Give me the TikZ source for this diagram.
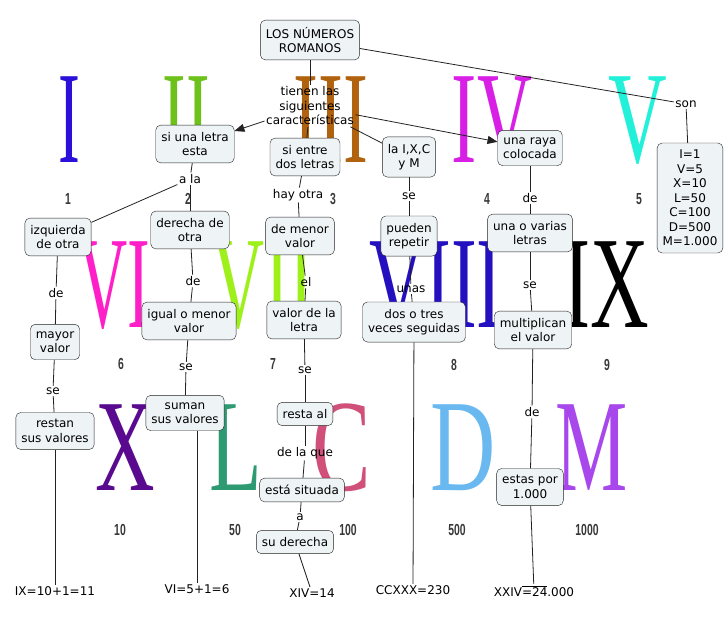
\documentclass[tikz,border=0pt]{standalone}
\usepackage{fontspec}
\setmainfont{DejaVu Sans}
\newfontfamily\romfont{Liberation Serif}
\newfontfamily\numfont{Liberation Sans}
\usetikzlibrary{arrows.meta}
\newcommand{\mapfont}{\fontsize{12}{14.5}\selectfont}
\newcommand{\rom}[2]{\scalebox{#1}[1]{#2}}
\definecolor{Fill}{HTML}{EEF3F6}
\definecolor{Ink}{HTML}{222222}
\definecolor{NumGray}{HTML}{383838}
\definecolor{RomI}{HTML}{2A10D8}
\definecolor{RomII}{HTML}{6CC21A}
\definecolor{RomIII}{HTML}{B0620E}
\definecolor{RomIV}{HTML}{D81FE6}
\definecolor{RomV}{HTML}{22F0D8}
\definecolor{RomVI}{HTML}{FF1FC8}
\definecolor{RomVII}{HTML}{9EF01A}
\definecolor{RomVIII}{HTML}{2510C0}
\definecolor{RomX}{HTML}{5A0A8E}
\definecolor{RomL}{HTML}{2E9A72}
\definecolor{RomC}{HTML}{D0507A}
\definecolor{RomD}{HTML}{6AB8F0}
\definecolor{RomM}{HTML}{A848EC}
\begin{document}
\begin{tikzpicture}[x=1pt,y=-1pt,
box/.style={draw=Ink,fill=Fill,rounded corners=5pt,align=center,inner xsep=5.5pt,inner ysep=7pt,font=\mapfont},
link/.style={align=center,inner sep=1.5pt,font=\mapfont},
leaf/.style={inner sep=1.5pt,font=\mapfont},
roman/.style={anchor=base,inner sep=0pt,font=\romfont\fontsize{131}{131}\selectfont},
num/.style={inner sep=0pt,font=\numfont\bfseries\fontsize{16}{16}\selectfont,text=NumGray},
con/.style={draw=Ink,line width=0.8pt},
arr/.style={con,-{Triangle[length=10pt,width=8pt]}}]
\useasboundingbox (0,0) rectangle (728,622);
\node[roman,text=RomI] (rI) at (69,162) {\rom{.5}{I}};
\node[roman,text=RomII] (rII) at (186,162) {\rom{.54}{II}};
\node[roman,text=RomIII] (rIII) at (331,162) {\rom{.57}{III}};
\node[roman,text=RomIV] (rIV) at (492,162) {\rom{.58}{IV}};
\node[roman,text=RomV] (rV) at (638,162) {\rom{.62}{V}};
\node[roman,text=RomVI] (rVI) at (114,327) {\rom{.52}{VI}};
\node[roman,text=RomVII] (rVII) at (263,327) {\rom{.55}{VII}};
\node[roman,text=RomVIII] (rVIII) at (436,327) {\rom{.59}{VIII}};
\node[roman,text=black] (rIX) at (606,327) {\rom{.62}{IX}};
\node[roman,text=RomX] (rX) at (125,490) {\rom{.63}{X}};
\node[roman,text=RomL] (rL) at (236,490) {\rom{.66}{L}};
\node[roman,text=RomC] (rC) at (342,490) {\rom{.67}{C}};
\node[roman,text=RomD] (rD) at (463,490) {\rom{.69}{D}};
\node[roman,text=RomM] (rM) at (592,490) {\rom{.62}{M}};
\node[num] (n1) at (68,199) {\rom{.65}{1}};
\node[num] (n2) at (188,199) {\rom{.65}{2}};
\node[num] (n3) at (333,199) {\rom{.65}{3}};
\node[num] (n4) at (487,199) {\rom{.65}{4}};
\node[num] (n5) at (639,199) {\rom{.65}{5}};
\node[num] (n6) at (121,364) {\rom{.65}{6}};
\node[num] (n7) at (273,364) {\rom{.65}{7}};
\node[num] (n8) at (454,365) {\rom{.65}{8}};
\node[num] (n9) at (607,365) {\rom{.65}{9}};
\node[num] (n10) at (120,530) {\rom{.65}{10}};
\node[num] (n50) at (235,530) {\rom{.65}{50}};
\node[num] (n100) at (348,530) {\rom{.65}{100}};
\node[num] (n500) at (457,530) {\rom{.65}{500}};
\node[num] (n1000) at (587,530) {\rom{.65}{1000}};
\node[box] (los) at (310,40) {LOS NÚMEROS\\ROMANOS};
\node[link] (tienen) at (310,106) {tienen las\\siguientes\\características};
\node[link] (son) at (686,104) {son};
\node[box] (vals) at (690,198) {I=1\\V=5\\X=10\\L=50\\C=100\\D=500\\M=1.000};
\node[box] (si) at (195,144) {si una letra\\esta};
\node[box] (entre) at (305,157) {si entre\\dos letras};
\node[box] (ixcm) at (409,157) {la I,X,C\\y M};
\node[box] (raya) at (530,148) {una raya\\colocada};
\node[link] (ala) at (190,179) {a la};
\node[link] (hay) at (298,195) {hay otra};
\node[link] (se1) at (409,196) {se};
\node[link] (de1) at (530,198) {de};
\node[box] (izq) at (58,237) {izquierda\\de otra};
\node[box] (der) at (190,230) {derecha de\\otra};
\node[box] (menor) at (300,236) {de menor\\valor};
\node[box] (rep) at (409,236) {pueden\\repetir};
\node[box] (varias) at (530,233) {una o varias\\letras};
\node[link] (de2) at (56,293) {de};
\node[link] (de3) at (193,281) {de};
\node[link] (el) at (306,282) {el};
\node[link] (unas) at (411,289) {unas};
\node[link] (se2) at (530,285) {se};
\node[box] (mayor) at (55,342) {mayor\\valor};
\node[box] (igual) at (189,321) {igual o menor\\valor};
\node[box] (vletra) at (304,320) {valor de la\\letra};
\node[box] (veces) at (414,322) {dos o tres\\veces seguidas};
\node[box] (mult) at (533,330) {multiplican\\el valor};
\node[link] (se3) at (53,391) {se};
\node[link] (se4) at (186,367) {se};
\node[link] (se5) at (305,370) {se};
\node[link] (de4) at (532,412) {de};
\node[box] (restan) at (55,431) {restan\\sus valores};
\node[box] (suman) at (185,413) {suman\\sus valores};
\node[box] (resta) at (305,414) {resta al};
\node[link] (dela) at (305,453) {de la que};
\node[box] (sit) at (302,490) {está situada};
\node[link] (a) at (300,517) {a};
\node[box] (suder) at (295,542) {su derecha};
\node[box] (por) at (530,487) {estas por\\1.000};
\node[leaf] (ix) at (55,591) {IX=10+1=11};
\node[leaf] (vi) at (197,589) {VI=5+1=6};
\node[leaf] (xiv) at (312,593) {XIV=14};
\node[leaf] (cc) at (413,590) {CCXXX=230};
\node[leaf] (xxiv) at (534,591) {XXIV$\overline{\mbox{=24}}$.000};
\draw[con] (los)--(tienen);\draw[con] (los)--(son);\draw[con] (son)--(vals);
\draw[arr] (tienen)--(si);\draw[con] (tienen)--(entre);\draw[con] (tienen)--(ixcm);\draw[arr] (tienen)--(raya);
\draw[con] (si)--(ala);\draw[con] (ala)--(izq);\draw[con] (ala)--(der);
\draw[con] (entre)--(hay);\draw[con] (hay)--(menor);
\draw[con] (ixcm)--(se1);\draw[con] (se1)--(rep);
\draw[con] (raya)--(de1);\draw[con] (de1)--(varias);
\draw[con] (izq)--(de2);\draw[con] (de2)--(mayor);
\draw[con] (der)--(de3);\draw[con] (de3)--(igual);
\draw[con] (menor)--(el);\draw[con] (el)--(vletra);
\draw[con] (rep)--(unas);\draw[con] (unas)--(veces);
\draw[con] (varias)--(se2);\draw[con] (se2)--(mult);
\draw[con] (mayor)--(se3);\draw[con] (se3)--(restan);
\draw[con] (igual)--(se4);\draw[con] (se4)--(suman);
\draw[con] (vletra)--(se5);\draw[con] (se5)--(resta);
\draw[con] (resta)--(dela);\draw[con] (dela)--(sit);
\draw[con] (sit)--(a);\draw[con] (a)--(suder);
\draw[con] (mult)--(de4);\draw[con] (de4)--(por);
\draw[con] (restan)--(ix);\draw[con] (vi.north)--(vi.north |- suman.south);
\draw[con] (suder)--(xiv);\draw[con] (veces)--(cc);\draw[con] (por)--(xxiv);
\end{tikzpicture}
\end{document}
